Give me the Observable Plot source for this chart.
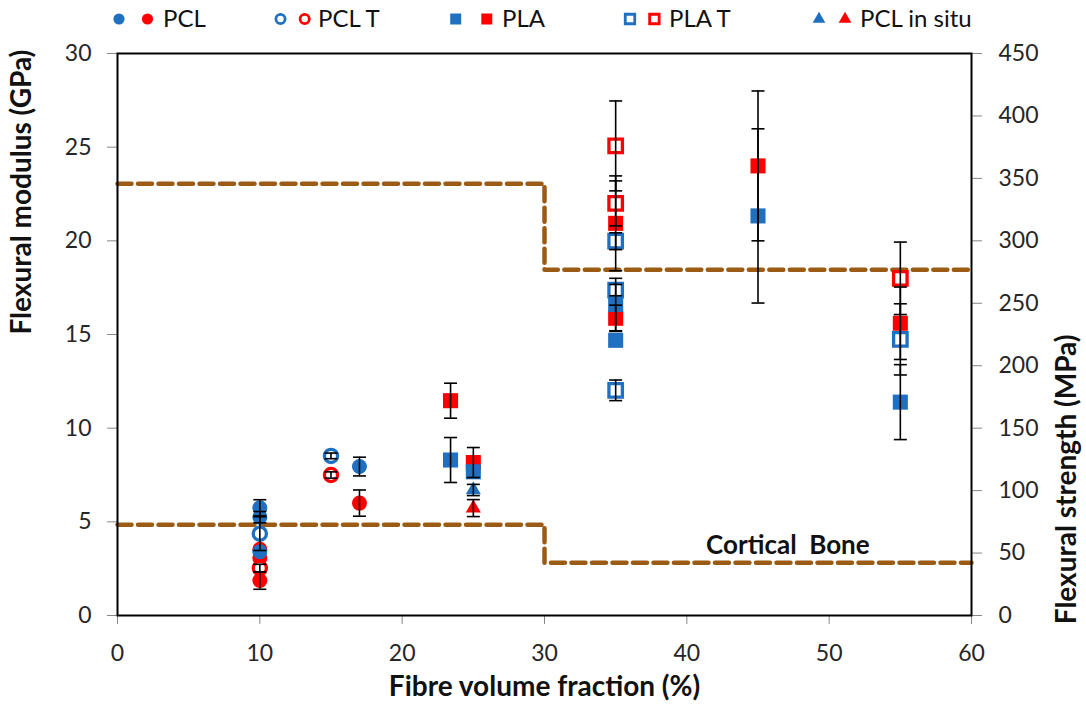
<!DOCTYPE html>
<html><head><meta charset="utf-8">
<script src="https://cdn.jsdelivr.net/npm/d3@7"></script>
<script src="https://cdn.jsdelivr.net/npm/@observablehq/plot@0.6"></script>
<style>
body{margin:0;background:#fff;font-family:Lato,"Open Sans",sans-serif}
#legend{position:relative;width:1086px;height:34px}
#legend svg{position:absolute;top:0;left:0}
</style></head><body>
<div id="legend"></div>
<div id="chart"></div>
<script>
// ---- data: [fibre volume fraction (%), value, error] ----
// modulus in GPa (left axis), strength in MPa (right axis)
const pclModulus     = [[10,5.75,0.43],[10,5.25,0.3],[10,3.4,0],[17,7.95,0.5]];
const pclStrength    = [[10,53,0],[10,46,0],[10,28,7],[17,90,10.5]];
const pclTModulus    = [[10,4.37,0.9],[15,8.52,0.15]];
const pclTStrength   = [[10,38,3],[15,112.5,2.5]];
const plaModulus     = [[23.4,8.3,1.2],[25,7.67,0],[35,16.6,1.4],[35,14.69,0],[45,21.33,4.65],[55,11.39,2.0]];
const plaStrength    = [[23.4,172,14],[25,122.5,12],[35,314,38],[35,238,10.5],[45,360,60],[55,234,29]];
const plaTModulus    = [[35,19.98,0.45],[35,17.37,0.3],[35,12.02,0.55],[55,14.74,1.9]];
const plaTStrength   = [[35,376,36],[35,330,18],[55,270,29]];
const inSituModulus  = [[25,6.7,0.3]];
const inSituStrength = [[25,86,6.8]];
// cortical bone reference steps (left-axis units)
const boneUpper = [[0,23.05],[30,18.45],[60,18.45]];
const boneLower = [[0,4.85],[30,2.82],[60,2.82]];
const boneLabel = [[47.1,3.75,"Cortical  Bone"]];
const seriesNames = ["PCL","PCL T","PLA","PLA T","PCL in situ"];
const xTicks  = [0,10,20,30,40,50,60];
const yTicks  = [0,5,10,15,20,25,30];
const y2Ticks = [0,50,100,150,200,250,300,350,400,450];
const mpaPerAxisUnit = 15;

// ---- styling ----
const BLUE = "#1F70C1", RED = "#FF0000", BROWN = "#9C5B14";
const FONT = "Lato, 'Open Sans', sans-serif";
const series = [
  {name: seriesNames[0], symbol: "circle",   open: false, mod: pclModulus,    str: pclStrength},
  {name: seriesNames[1], symbol: "circle",   open: true,  mod: pclTModulus,   str: pclTStrength},
  {name: seriesNames[2], symbol: "square",   open: false, mod: plaModulus,    str: plaStrength},
  {name: seriesNames[3], symbol: "square",   open: true,  mod: plaTModulus,   str: plaTStrength},
  {name: seriesNames[4], symbol: "triangle", open: false, mod: inSituModulus, str: inSituStrength}
];
const sizeFor = (s) => s.symbol === "circle" ? (s.open ? 6.6 : 7.5)
                     : s.symbol === "square" ? (s.open ? 7.6 : 8.5) : 5.6;

const toRows = (arr, k) => arr.map(([x, v, e]) => ({x, y: v / k, e: e / k}));
const marks = [];
const allRows = [];
marks.push(Plot.line(boneUpper, {x: d => d[0], y: d => d[1], curve: "step-after", stroke: BROWN, strokeWidth: 4.5, strokeDasharray: "14,6.5"}));
marks.push(Plot.line(boneLower, {x: d => d[0], y: d => d[1], curve: "step-after", stroke: BROWN, strokeWidth: 4.5, strokeDasharray: "14,6.5"}));
for (const [key, k, color] of [["str", mpaPerAxisUnit, RED], ["mod", 1, BLUE]]) {
  for (const s of series) {
    const rows = toRows(s[key], k);
    allRows.push(...rows);
    marks.push(Plot.dot(rows, {
      x: "x", y: "y", symbol: s.symbol, r: sizeFor(s),
      fill: s.open ? "white" : color,
      stroke: s.open ? color : "none",
      strokeWidth: s.open ? 3.3 : 0
    }));
  }
}
const errRows = allRows.filter(d => d.e > 0);
const cap = {draw(ctx) { ctx.moveTo(-6.5, 0); ctx.lineTo(6.5, 0); }};
marks.push(Plot.ruleX(errRows, {x: "x", y1: d => d.y - d.e, y2: d => d.y + d.e, stroke: "black", strokeWidth: 1.6}));
marks.push(Plot.dot(errRows, {x: "x", y: d => d.y + d.e, symbol: cap, fill: "none", stroke: "black", strokeWidth: 1.6}));
marks.push(Plot.dot(errRows, {x: "x", y: d => d.y - d.e, symbol: cap, fill: "none", stroke: "black", strokeWidth: 1.6}));
marks.push(Plot.text(boneLabel, {x: d => d[0], y: d => d[1], text: d => d[2], fontSize: 26, fontWeight: "bold", fill: "#111"}));
// axes
marks.push(Plot.axisX({ticks: xTicks, tickSize: 9, tickPadding: 20, stroke: "#868686", fill: "#262626", label: null}));
marks.push(Plot.axisY({anchor: "left", ticks: yTicks, tickSize: 10, tickPadding: 16, stroke: "#868686", fill: "#262626", label: null}));
marks.push(Plot.axisY({anchor: "right", ticks: y2Ticks.map(v => v / mpaPerAxisUnit), tickFormat: d => Math.round(d * mpaPerAxisUnit), tickSize: 10, tickPadding: 17, stroke: "#868686", fill: "#262626", label: null}));
marks.push(Plot.frame({stroke: "black", strokeWidth: 2}));
// axis titles
marks.push(Plot.text(["Flexural modulus (GPa)"], {text: d => d, frameAnchor: "left", dx: -95, rotate: -90, fontSize: 28, fontWeight: "bold", fill: "#111"}));
marks.push(Plot.text(["Flexural strength (MPa)"], {text: d => d, frameAnchor: "right", dx: 96, rotate: -90, fontSize: 28, fontWeight: "bold", fill: "#111"}));
marks.push(Plot.text(["Fibre volume fraction (%)"], {text: d => d, frameAnchor: "bottom", dy: 80, fontSize: 28, fontWeight: "bold", fill: "#111"}));

const chart = Plot.plot({
  width: 1086, height: 674,
  marginTop: 19, marginLeft: 117, marginRight: 115, marginBottom: 93,
  x: {domain: [0, 60]},
  y: {domain: [0, 30]},
  style: {fontFamily: FONT, fontSize: "23px", background: "white"},
  marks
});
document.getElementById("chart").append(chart);

// ---- legend (SVG above the chart) ----
const legendLayout = [
  {b: 119, r: 147.5, t: 163},
  {b: 280.5, r: 304.7, t: 318},
  {b: 455.7, r: 486.8, t: 502},
  {b: 630, r: 654.4, t: 669},
  {b: 819, r: 845, t: 860}
];
const lsvg = d3.create("svg").attr("width", 1086).attr("height", 34);
const ly = 19;
series.forEach((s, i) => {
  const L = legendLayout[i];
  const area = s.symbol === "circle" ? Math.PI * (s.open ? 4.6 : 5.6) ** 2
             : s.symbol === "square" ? (s.open ? 90 : 121) : 70;
  const type = s.symbol === "circle" ? d3.symbolCircle : s.symbol === "square" ? d3.symbolSquare : d3.symbolTriangle;
  const path = d3.symbol(type, area)();
  for (const [cx, color] of [[L.b, BLUE], [L.r, RED]]) {
    lsvg.append("path").attr("d", path).attr("transform", `translate(${cx},${ly})`)
      .attr("fill", s.open ? "white" : color)
      .attr("stroke", s.open ? color : "none")
      .attr("stroke-width", s.open ? 2.8 : 0);
  }
  lsvg.append("text").attr("x", L.t).attr("y", ly).attr("dy", "0.35em")
    .attr("font-family", FONT).attr("font-size", 24).attr("fill", "#111")
    .text(s.name);
});
document.getElementById("legend").append(lsvg.node());
</script>
</body></html>
